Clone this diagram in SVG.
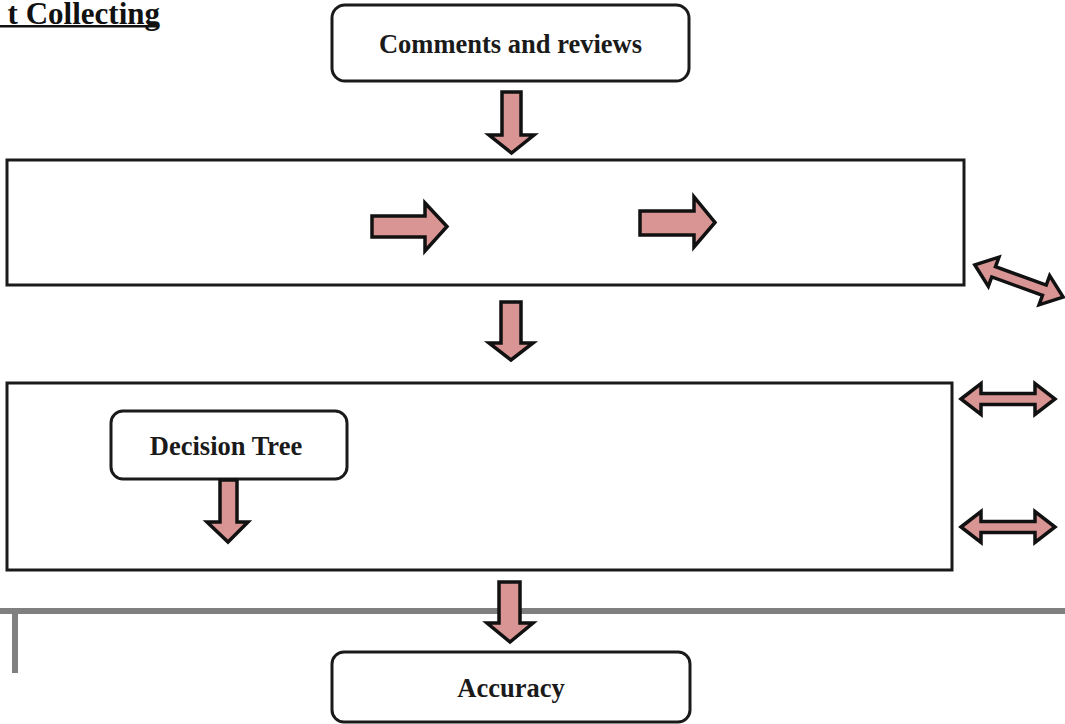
<svg xmlns="http://www.w3.org/2000/svg" width="1065" height="724" viewBox="0 0 1065 724">
<style>
.box{fill:#fff;stroke:#1a1a1a;stroke-width:3}
.frame{fill:none;stroke:#1a1a1a;stroke-width:3}
.arr{fill:#d99594;stroke:#111;stroke-width:3.5;stroke-linejoin:miter}
.lbl{font-family:"Liberation Serif","Times New Roman",serif;font-weight:bold;font-size:26.5px;fill:#1a1a1a;text-anchor:middle}
.gray{fill:#808080}
</style>
<defs>
<path id="dbl" d="M-47,0 L-27,-15.5 L-27,-5.5 L27,-5.5 L27,-15.5 L47,0 L27,15.5 L27,5.5 L-27,5.5 L-27,15.5 Z"/>
</defs>
<rect width="1065" height="724" fill="#fff"/>
<g id="title">
<text x="160" y="24" font-family="Liberation Serif,'Times New Roman',serif" font-weight="bold" font-size="31" fill="#111" text-anchor="end">t Collecting</text>
<rect x="0" y="25" width="159" height="2.5" fill="#111"/>
</g>
<g id="stage-preprocessing">
<rect class="frame" x="7" y="160" width="957" height="125"/>
</g>
<g id="stage-models">
<rect class="frame" x="7" y="383" width="945" height="187"/>
</g>
<g id="dividers">
<rect class="gray" x="0" y="608" width="1065" height="6"/>
<rect class="gray" x="12" y="614" width="6" height="59"/>
</g>
<g id="comments">
<rect class="box" x="332" y="5" width="357" height="76" rx="13"/>
<text class="lbl" x="510.5" y="53">Comments and reviews</text>
</g>
<g id="decision-tree">
<rect class="box" x="111" y="411" width="236" height="68" rx="12"/>
<text class="lbl" x="226" y="455">Decision Tree</text>
</g>
<g id="accuracy">
<rect class="box" x="332" y="652" width="358" height="70" rx="12"/>
<text class="lbl" x="511" y="697">Accuracy</text>
</g>
<g id="connectors">
<path class="arr" d="M502,92 L521,92 L521,135 L534,135 L511.5,153 L489,135 L502,135 Z"/>
<path class="arr" d="M372,216 L425,216 L425,203 L447,226.5 L425,251 L425,237 L372,237 Z"/>
<path class="arr" d="M640,211 L694,211 L694,197 L715,222.5 L694,247 L694,235 L640,235 Z"/>
<path class="arr" d="M501,302 L521,302 L521,343 L533,343 L511,360 L489,343 L501,343 Z"/>
<path class="arr" d="M220,480 L237,480 L237,522 L248,522 L228,542 L207,522 L220,522 Z"/>
<path class="arr" d="M499,582 L520,582 L520,623 L533,623 L510,642 L487,623 L499,623 Z"/>
<use class="arr" href="#dbl" transform="translate(1019,281) rotate(20)"/>
<use class="arr" href="#dbl" transform="translate(1008,399)"/>
<use class="arr" href="#dbl" transform="translate(1008,527)"/>
</g>
</svg>
